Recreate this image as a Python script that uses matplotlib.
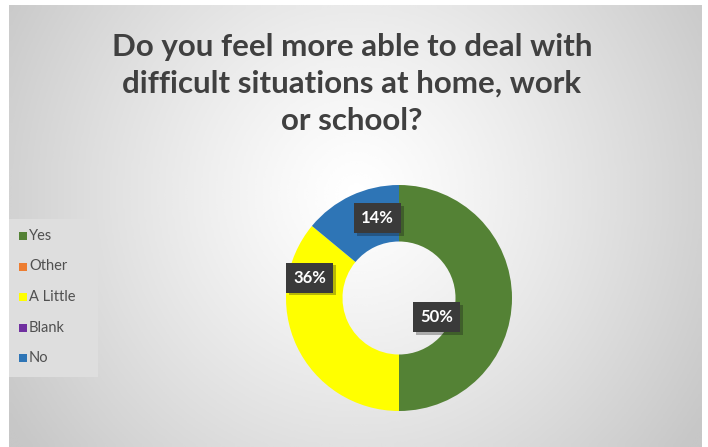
import numpy as np
import matplotlib
matplotlib.use("Agg")
import matplotlib.pyplot as plt
import matplotlib.patheffects as pe
from matplotlib.patches import Rectangle

# Survey answers
categories = ["Yes", "Other", "A Little", "Blank", "No"]
shares = [50, 0, 36, 0, 14]
colors = ["#548235", "#ED7D31", "#FFFF00", "#7030A0", "#2E75B6"]

title = "Do you feel more able to deal with\ndifficult situations at home, work\nor school?"

W, H = 708, 447
fig = plt.figure(figsize=(W / 100, H / 100), dpi=100)
fig.patch.set_facecolor("white")

# chart area with a soft radial gradient
bg = fig.add_axes([9 / W, 0, (702 - 9) / W, (H - 5) / H])
yy, xx = np.mgrid[0:200, 0:320]
cx, cy = 160, 85
d = np.sqrt(((xx - cx) / 200) ** 2 + ((yy - cy) / 200) ** 2)
shade = 1.0 - 0.22 * np.clip(d / 0.95, 0, 1) ** 1.2
bg.imshow(shade, cmap="gray", vmin=0, vmax=1, aspect="auto", interpolation="bicubic")
bg.set_axis_off()

fig.text(352 / W, 1 - 84 / H, title, ha="center", va="center",
         fontsize=22.5, fontweight="bold", color="#404040",
         family="Lato", linespacing=1.4)

# donut
r_px = 113
ax = fig.add_axes([(399 - r_px) / W, (H - 298 - r_px) / H, 2 * r_px / W, 2 * r_px / H])
wedges, _ = ax.pie(shares, colors=colors, startangle=90, counterclock=False,
                   radius=1, wedgeprops=dict(width=0.5, edgecolor="none"))
ax.set_xlim(-1, 1)
ax.set_ylim(-1, 1)
ax.set_aspect("equal")
ax.set_axis_off()

# data label placement (pie units)
label_xy = {"Yes": (0.33, -0.17), "A Little": (-0.79, 0.18), "No": (-0.19, 0.71)}
for name, val in zip(categories, shares):
    if val == 0:
        continue
    x, y = label_xy[name]
    t = ax.text(x, y, f"{val}%", ha="center", va="center", color="white",
                fontsize=12, fontweight="bold", family="Lato",
                bbox=dict(boxstyle="square,pad=0.42", fc="#3a3a3a", ec="none"))
    t.get_bbox_patch().set_path_effects(
        [pe.SimplePatchShadow(offset=(2, -2), alpha=0.3), pe.Normal()])

# legend panel
lg = fig.add_axes([9 / W, (H - 377) / H, (98 - 9) / W, (377 - 219) / H])
lg.set_xlim(0, 89)
lg.set_ylim(158, 0)
lg.add_patch(Rectangle((0, 0), 89, 158, fc="#dedede", ec="none"))
lg.set_axis_off()
for i, (name, c) in enumerate(zip(categories, colors)):
    y = 17 + i * 30.5
    lg.add_patch(Rectangle((10, y - 4), 8, 8, fc=c, ec="none"))
    lg.text(20, y, name, ha="left", va="center", fontsize=10.5,
            color="#505050", family="Lato")

fig.savefig("out.png", dpi=100)
